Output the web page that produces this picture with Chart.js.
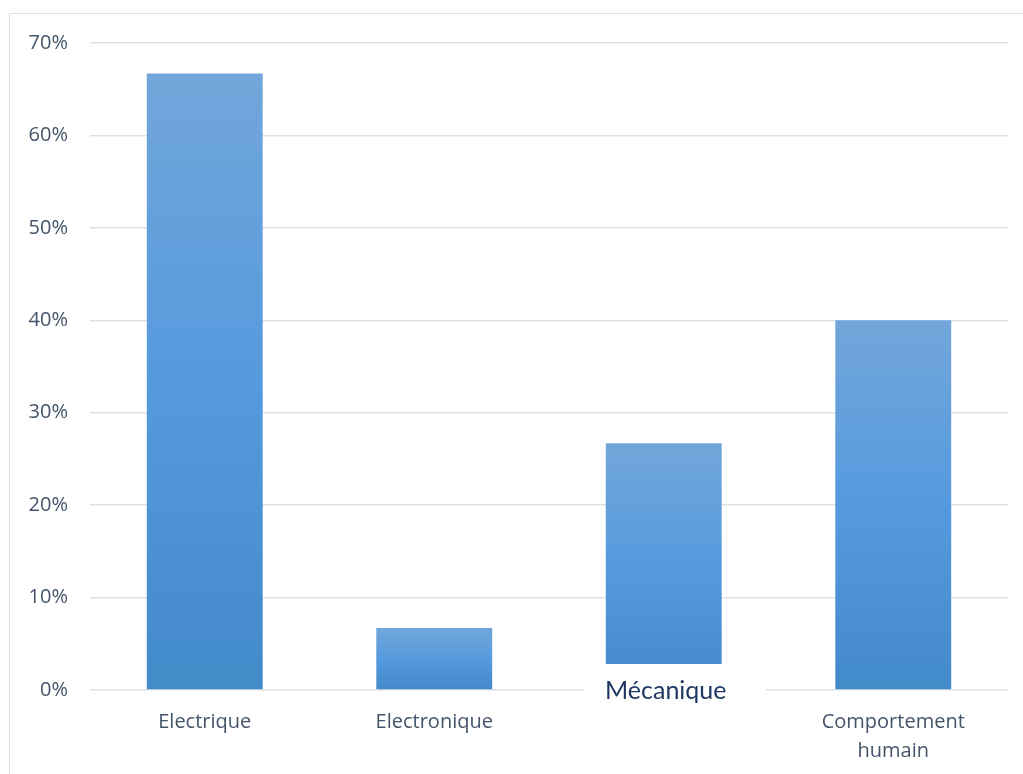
<!DOCTYPE html>
<html>
<head>
<meta charset="utf-8">
<script src="https://cdn.jsdelivr.net/npm/chart.js@4.4.0/dist/chart.umd.min.js"></script>
<style>
  body { margin: 0; background: #fff; }
  #frame { position: absolute; left: 9px; top: 13px; width: 1100px; height: 900px; border: 1.5px solid #dde1e7; }
  #wrap { position: absolute; left: 0; top: 0; width: 1023px; height: 774px; }
</style>
</head>
<body>
<div id="frame"></div>
<div id="wrap"><canvas id="canvas_causes"></canvas></div>
<script>
const categories = ['Electrique', 'Electronique', 'Mécanique', ['Comportement', 'humain']];
const values = [66.7, 6.7, 26.7, 40];
const yTicks = [0, 10, 20, 30, 40, 50, 60, 70];
const overlayIndex = 2; // this label sits in its own white box in the picture

function barGradient(context) {
  const chart = context.chart;
  const {ctx, chartArea, scales} = chart;
  if (!chartArea || context.type !== 'data') {
    return '#559ade';
  }
  const top = scales.y.getPixelForValue(context.raw);
  const bottom = scales.y.getPixelForValue(0);
  const g = ctx.createLinearGradient(0, top, 0, bottom);
  g.addColorStop(0, '#72a6da');
  g.addColorStop(0.5, '#559ade');
  g.addColorStop(1, '#438ac9');
  return g;
}

// draws the "Mécanique" label over the axis with a white box behind it
const overlayLabel = {
  id: 'overlayLabel',
  afterDraw(chart) {
    const {ctx, scales} = chart;
    const x = scales.x.getPixelForValue(overlayIndex);
    const y = scales.y.getPixelForValue(0);
    ctx.save();
    ctx.fillStyle = '#ffffff';
    ctx.fillRect(x - 80, y - 26, 182, 44);
    ctx.font = '25px Lato';
    ctx.fillStyle = '#1f3864';
    ctx.textAlign = 'center';
    ctx.textBaseline = 'middle';
    ctx.fillText(categories[overlayIndex], x + 2, y + 1);
    ctx.restore();
  }
};

const config = {
  type: 'bar',
  data: {
    labels: categories,
    datasets: [{
      data: values,
      backgroundColor: barGradient,
      borderWidth: 0,
      barPercentage: 0.505,
      categoryPercentage: 1
    }]
  },
  options: {
    responsive: false,
    animation: false,
    layout: { padding: { left: 0, right: 15, top: 43, bottom: 0 } },
    scales: {
      y: {
        min: 0,
        max: 70,
        afterBuildTicks: (scale) => { scale.ticks = yTicks.map(v => ({value: v})); },
        afterFit: (scale) => { scale.width = 90; },
        border: { display: false },
        grid: { color: '#dde1e7', lineWidth: 1.5, drawTicks: false },
        ticks: {
          padding: 22,
          color: '#44546a',
          font: { family: 'Open Sans', size: 20 },
          callback: (v) => v + '%'
        }
      },
      x: {
        afterFit: (scale) => { scale.height = 84; },
        border: { display: false },
        grid: { display: false, drawTicks: false },
        ticks: {
          padding: 18,
          maxRotation: 0,
          color: '#44546a',
          font: { family: 'Open Sans', size: 20, lineHeight: 1.45 },
          callback: (v, i) => i === overlayIndex ? '' : categories[i]
        }
      }
    },
    plugins: {
      legend: { display: false },
      tooltip: { enabled: false }
    }
  },
  plugins: [overlayLabel]
};

const canvas = document.getElementById('canvas_causes');
canvas.width = 1023;
canvas.height = 774;
window.chart = new Chart(canvas, config);
</script>
</body>
</html>
